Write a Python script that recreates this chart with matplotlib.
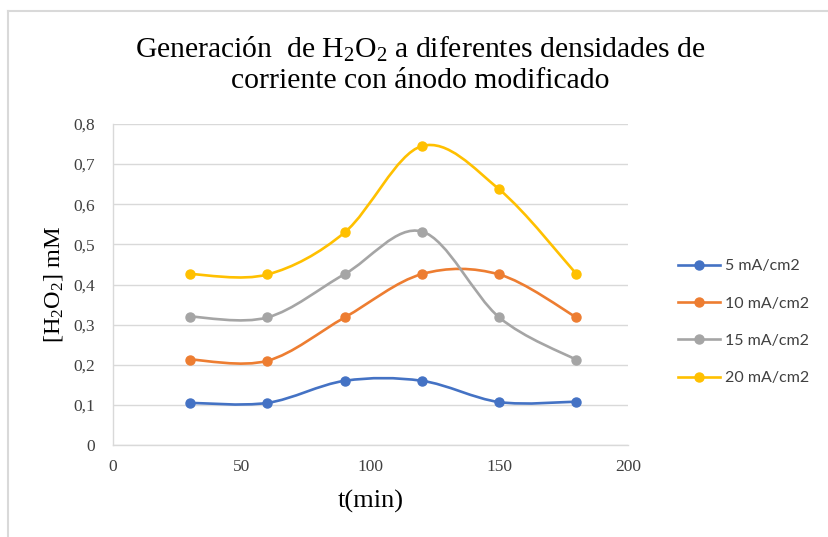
import numpy as np
import matplotlib
matplotlib.use('Agg')
import matplotlib.pyplot as plt
from matplotlib.path import Path
from matplotlib.patches import PathPatch
from matplotlib.lines import Line2D
from matplotlib.ticker import FuncFormatter

# datos
t_min = [30, 60, 90, 120, 150, 180]
h2o2_5 = [0.105, 0.105, 0.160, 0.160, 0.107, 0.108]
h2o2_10 = [0.213, 0.210, 0.318, 0.426, 0.425, 0.318]
h2o2_15 = [0.320, 0.318, 0.426, 0.532, 0.318, 0.212]
h2o2_20 = [0.426, 0.425, 0.530, 0.745, 0.637, 0.426]
series_labels = ['5 mA/cm2', '10 mA/cm2', '15 mA/cm2', '20 mA/cm2']
color_list = ['#4472C4', '#ED7D31', '#A5A5A5', '#FFC000']

x_ticks = [0, 50, 100, 150, 200]
y_ticks = [0, 0.1, 0.2, 0.3, 0.4, 0.5, 0.6, 0.7, 0.8]

serif = 'Liberation Serif'
matplotlib.rcParams['mathtext.fontset'] = 'custom'
matplotlib.rcParams['mathtext.rm'] = serif
matplotlib.rcParams['mathtext.it'] = serif + ':italic'


def smooth_path(x, y):
    # curva suavizada tipo Excel (Bezier con puntos de control Catmull-Rom)
    p = np.column_stack([x, y]).astype(float)
    n = len(p)
    verts = [p[0]]
    codes = [Path.MOVETO]
    for i in range(n - 1):
        p0 = p[i - 1] if i > 0 else p[i]
        p3 = p[i + 2] if i + 2 < n else p[i + 1]
        c1 = p[i] + (p[i + 1] - p0) / 6.0
        c2 = p[i + 1] - (p3 - p[i]) / 6.0
        verts += [c1, c2, p[i + 1]]
        codes += [Path.CURVE4] * 3
    return Path(verts, codes)


fig = plt.figure(figsize=(8.29, 5.37), dpi=100)
axis = fig.add_axes([0.1363, 0.1713, 0.6212, 0.5978])

all_series = [h2o2_5, h2o2_10, h2o2_15, h2o2_20]
for i, serie in enumerate(all_series):
    patch = PathPatch(smooth_path(t_min, serie), facecolor='none',
                      edgecolor=color_list[i], linewidth=1.9, zorder=3,
                      capstyle='round')
    axis.add_patch(patch)
    axis.plot(t_min, serie, 'o', color=color_list[i], markersize=6.5, zorder=4)

axis.set_xlim(0, 200)
axis.set_ylim(0, 0.8)
axis.set_xticks(x_ticks)
axis.set_yticks(y_ticks)
axis.yaxis.set_major_formatter(FuncFormatter(lambda v, p: ('%g' % round(v, 1)).replace('.', ',')))

axis.grid(True, axis='y', color='#D9D9D9', linewidth=1.0)
axis.set_axisbelow(True)
for s in ['top', 'right']:
    axis.spines[s].set_visible(False)
for s in ['left', 'bottom']:
    axis.spines[s].set_color('#D9D9D9')
    axis.spines[s].set_linewidth(1.0)
axis.tick_params(axis='x', length=0, pad=10, labelsize=12.5, labelcolor='#404040')
axis.tick_params(axis='y', length=0, pad=13, labelsize=12.5, labelcolor='#404040')
for lab in axis.get_xticklabels() + axis.get_yticklabels():
    lab.set_family(serif)

axis.set_xlabel('t(min)', family=serif, fontsize=19, labelpad=11)
axis.set_ylabel(r'[$\mathregular{H_2O_2}$] mM', family=serif, fontsize=17.5, labelpad=6)

fig.text(0.507, 0.88, 'Generación  de $\\mathregular{H_2O_2}$ a diferentes densidades de\ncorriente con ánodo modificado',
         ha='center', va='center', family=serif, fontsize=21.3, linespacing=1.2)

handles = [Line2D([0], [0], color=c, linewidth=1.9, marker='o', markersize=6.5) for c in color_list]
fig.legend(handles, series_labels, loc='center left', bbox_to_anchor=(0.801, 0.40),
           frameon=False, prop={'family': 'Lato', 'size': 11.5}, labelcolor='#404040',
           handlelength=2.6, handletextpad=0.3, labelspacing=1.45)

# borde del area del grafico (solo izquierda y arriba visibles)
fig.add_artist(Line2D([0.0097, 0.0097], [0.0, 0.979], transform=fig.transFigure, color='#D9D9D9', linewidth=1.5))
fig.add_artist(Line2D([0.0097, 1.0], [0.979, 0.979], transform=fig.transFigure, color='#D9D9D9', linewidth=1.5))

plt.savefig('out.png', dpi=100)
